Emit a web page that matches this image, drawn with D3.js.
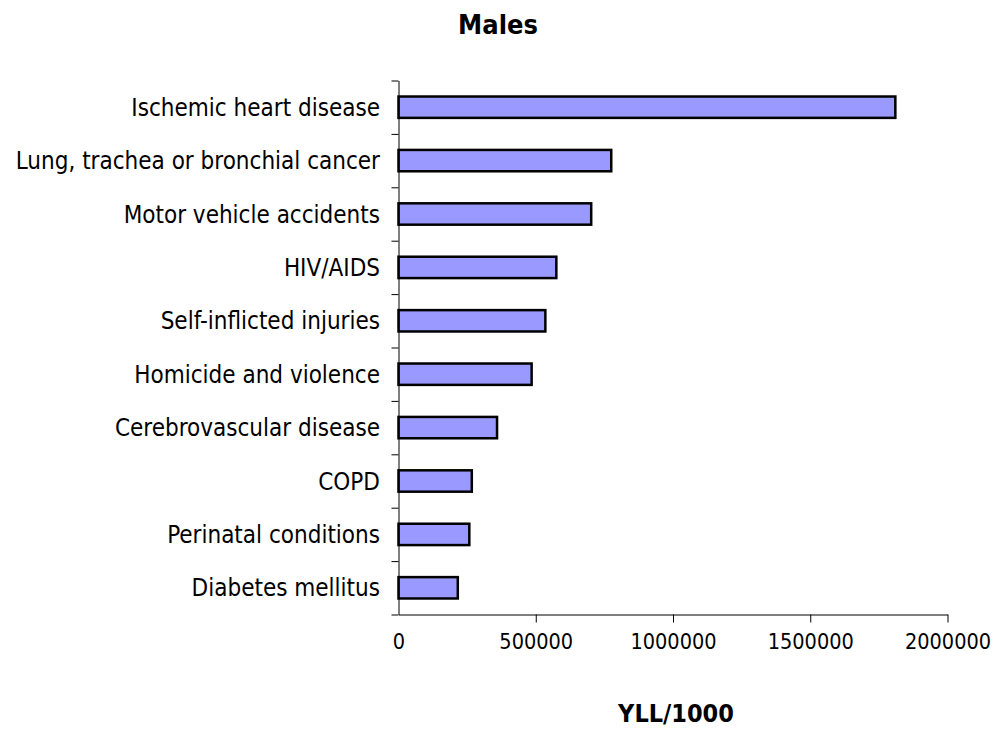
<!DOCTYPE html>
<html>
<head>
<meta charset="utf-8">
<script src="https://cdn.jsdelivr.net/npm/d3@7"></script>
<style>
  html, body { margin: 0; padding: 0; background: #fff; }
  svg { display: block; }
  text { font-family: "DejaVu Sans Condensed", "DejaVu Sans", sans-serif; font-stretch: condensed; fill: #000; }
</style>
</head>
<body>
<svg id="chart" width="999" height="730"></svg>
<script>
const categories = [
  "Ischemic heart disease",
  "Lung, trachea or bronchial cancer",
  "Motor vehicle accidents",
  "HIV/AIDS",
  "Self-inflicted injuries",
  "Homicide and violence",
  "Cerebrovascular disease",
  "COPD",
  "Perinatal conditions",
  "Diabetes mellitus"
];
const values = [1810000, 775000, 702000, 575000, 535000, 485000, 359000, 267000, 258000, 216000];
const xTicks = [0, 500000, 1000000, 1500000, 2000000];
const chartTitle = "Males";
const xTitle = "YLL/1000";

(function () {
const svg = d3.select("#chart");
const mLeft = 398.5, mRight = 947.5, mTop = 80.5, mBottom = 614.5;

const x = d3.scaleLinear().domain([0, 2000000]).range([mLeft, mRight]);
const y = d3.scaleBand().domain(categories).range([mTop, mBottom]).paddingInner(0.6).paddingOuter(0.3);
const yEdge = d3.scaleLinear().domain([0, categories.length]).range([mTop, mBottom]);

// bars
svg.append("g").selectAll("rect").data(values).join("rect")
  .attr("x", x(0))
  .attr("y", (d, i) => y(categories[i]))
  .attr("width", d => x(d) - x(0))
  .attr("height", y.bandwidth())
  .attr("fill", "#9999FF")
  .attr("stroke", "#000")
  .attr("stroke-width", 2.5);

// y axis (ticks at category boundaries)
const yAxis = svg.append("g").attr("transform", `translate(${mLeft},0)`)
  .call(d3.axisLeft(yEdge).tickValues(d3.range(0, categories.length + 1)).tickFormat("").tickSize(7).tickSizeOuter(0));
yAxis.selectAll("line, path").attr("stroke", "#000");

// category labels
svg.append("g").selectAll("text").data(categories).join("text")
  .attr("x", 380)
  .attr("y", d => y(d) + y.bandwidth() / 2)
  .attr("dy", "0.36em")
  .attr("text-anchor", "end")
  .style("font-size", "24px")
  .text(d => d);

// x axis
const xAxis = svg.append("g").attr("transform", `translate(0,${mBottom})`)
  .call(d3.axisBottom(x).tickValues(xTicks).tickFormat(d3.format("d")).tickSize(8).tickSizeOuter(0).tickPadding(11));
xAxis.selectAll("line, path").attr("stroke", "#000");
xAxis.selectAll("text").style("font-size", "21.5px")
  .style("font-family", "'DejaVu Sans Condensed', 'DejaVu Sans', sans-serif").attr("fill", "#000");
xAxis.select(".tick line").remove();

// titles
svg.append("text").attr("x", 498).attr("y", 34).attr("text-anchor", "middle")
  .style("font-size", "27px").style("font-weight", "bold").text(chartTitle);
svg.append("text").attr("x", 676).attr("y", 722).attr("text-anchor", "middle")
  .style("font-size", "25px").style("font-weight", "bold").text(xTitle);
})();
</script>
</body>
</html>
